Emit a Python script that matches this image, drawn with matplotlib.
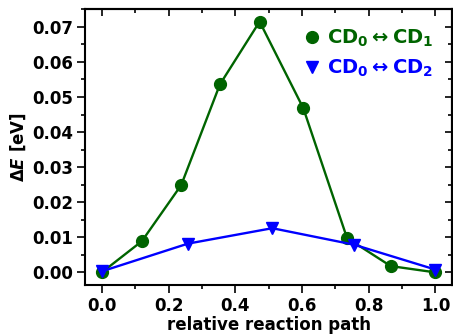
import matplotlib
matplotlib.use("Agg")
import matplotlib.pyplot as plt
from matplotlib.ticker import MultipleLocator
from matplotlib.lines import Line2D

x_cd1 = [0.0, 0.120, 0.238, 0.354, 0.473, 0.604, 0.735, 0.866, 1.0]
y_cd1 = [0.0, 0.0089, 0.0249, 0.0536, 0.0715, 0.0468, 0.0098, 0.0018, 0.0]
x_cd2 = [0.0, 0.258, 0.511, 0.756, 1.0]
y_cd2 = [0.0003, 0.0082, 0.0126, 0.0079, 0.0008]

xtick_vals = [0.0, 0.2, 0.4, 0.6, 0.8, 1.0]
xtick_labels = ['0.0', '0.2', '0.4', '0.6', '0.8', '1.0']

label_cd1 = r'$\mathbf{CD_0 \leftrightarrow CD_1}$'
label_cd2 = r'$\mathbf{CD_0 \leftrightarrow CD_2}$'
green = '#006400'
blue = '#0000ff'

plt.rcParams['font.weight'] = 'bold'
plt.rcParams['axes.labelweight'] = 'bold'

fig = plt.figure(figsize=(4.53, 3.36), dpi=100)
ax = fig.add_axes([0.188, 0.152, 0.81, 0.821])

ax.plot(x_cd1, y_cd1, '-o', color=green, lw=1.7, ms=8.5)
ax.plot(x_cd2, y_cd2, '-v', color=blue, lw=1.7, ms=9)

ax.set_xlabel('relative reaction path', fontsize=12, fontweight='bold', labelpad=1)
ax.set_ylabel(r'$\mathbf{\Delta}\mathbfit{E}$ [eV]', fontsize=12, fontweight='bold', labelpad=3)

ax.set_xlim(-0.05, 1.05)
ax.set_xticks(xtick_vals)
ax.set_xticklabels(xtick_labels, fontweight='bold')
ax.xaxis.set_minor_locator(MultipleLocator(0.1))
ax.yaxis.set_major_locator(MultipleLocator(0.01))
ax.yaxis.set_minor_locator(MultipleLocator(0.005))
ax.tick_params(which='both', direction='out', width=1.2)
ax.tick_params(which='major', length=5.5, labelsize=12)
ax.tick_params(axis='x', which='major', pad=3)
ax.tick_params(axis='y', which='major', pad=3)
ax.tick_params(which='minor', length=2.6)
for lbl in ax.get_yticklabels():
    lbl.set_fontweight('bold')
for s in ax.spines.values():
    s.set_linewidth(1.5)

# inward ticks on top and right
sx = ax.secondary_xaxis('top')
sx.set_xticks(xtick_vals)
sx.xaxis.set_minor_locator(MultipleLocator(0.1))
sx.tick_params(which='both', direction='in', width=1.2, labeltop=False)
sx.tick_params(which='major', length=4.8)
sx.tick_params(which='minor', length=2.6)
sx.spines['top'].set_linewidth(1.5)

sy = ax.secondary_yaxis('right')
sy.yaxis.set_major_locator(MultipleLocator(0.01))
sy.yaxis.set_minor_locator(MultipleLocator(0.005))
sy.tick_params(which='both', direction='in', width=1.2, labelright=False)
sy.tick_params(which='major', length=4.8)
sy.tick_params(which='minor', length=2.6)
sy.spines['right'].set_linewidth(1.5)

handles = [Line2D([], [], ls='none', marker='o', color=green, ms=8.5),
           Line2D([], [], ls='none', marker='v', color=blue, ms=9)]
leg = ax.legend(handles, [label_cd1, label_cd2], loc='upper right', frameon=False,
                fontsize=14, handletextpad=0.2, handlelength=1.2,
                borderaxespad=0.55, labelspacing=0.45)
for t, c in zip(leg.get_texts(), [green, blue]):
    t.set_color(c)

fig.savefig('out.png', dpi=100)
